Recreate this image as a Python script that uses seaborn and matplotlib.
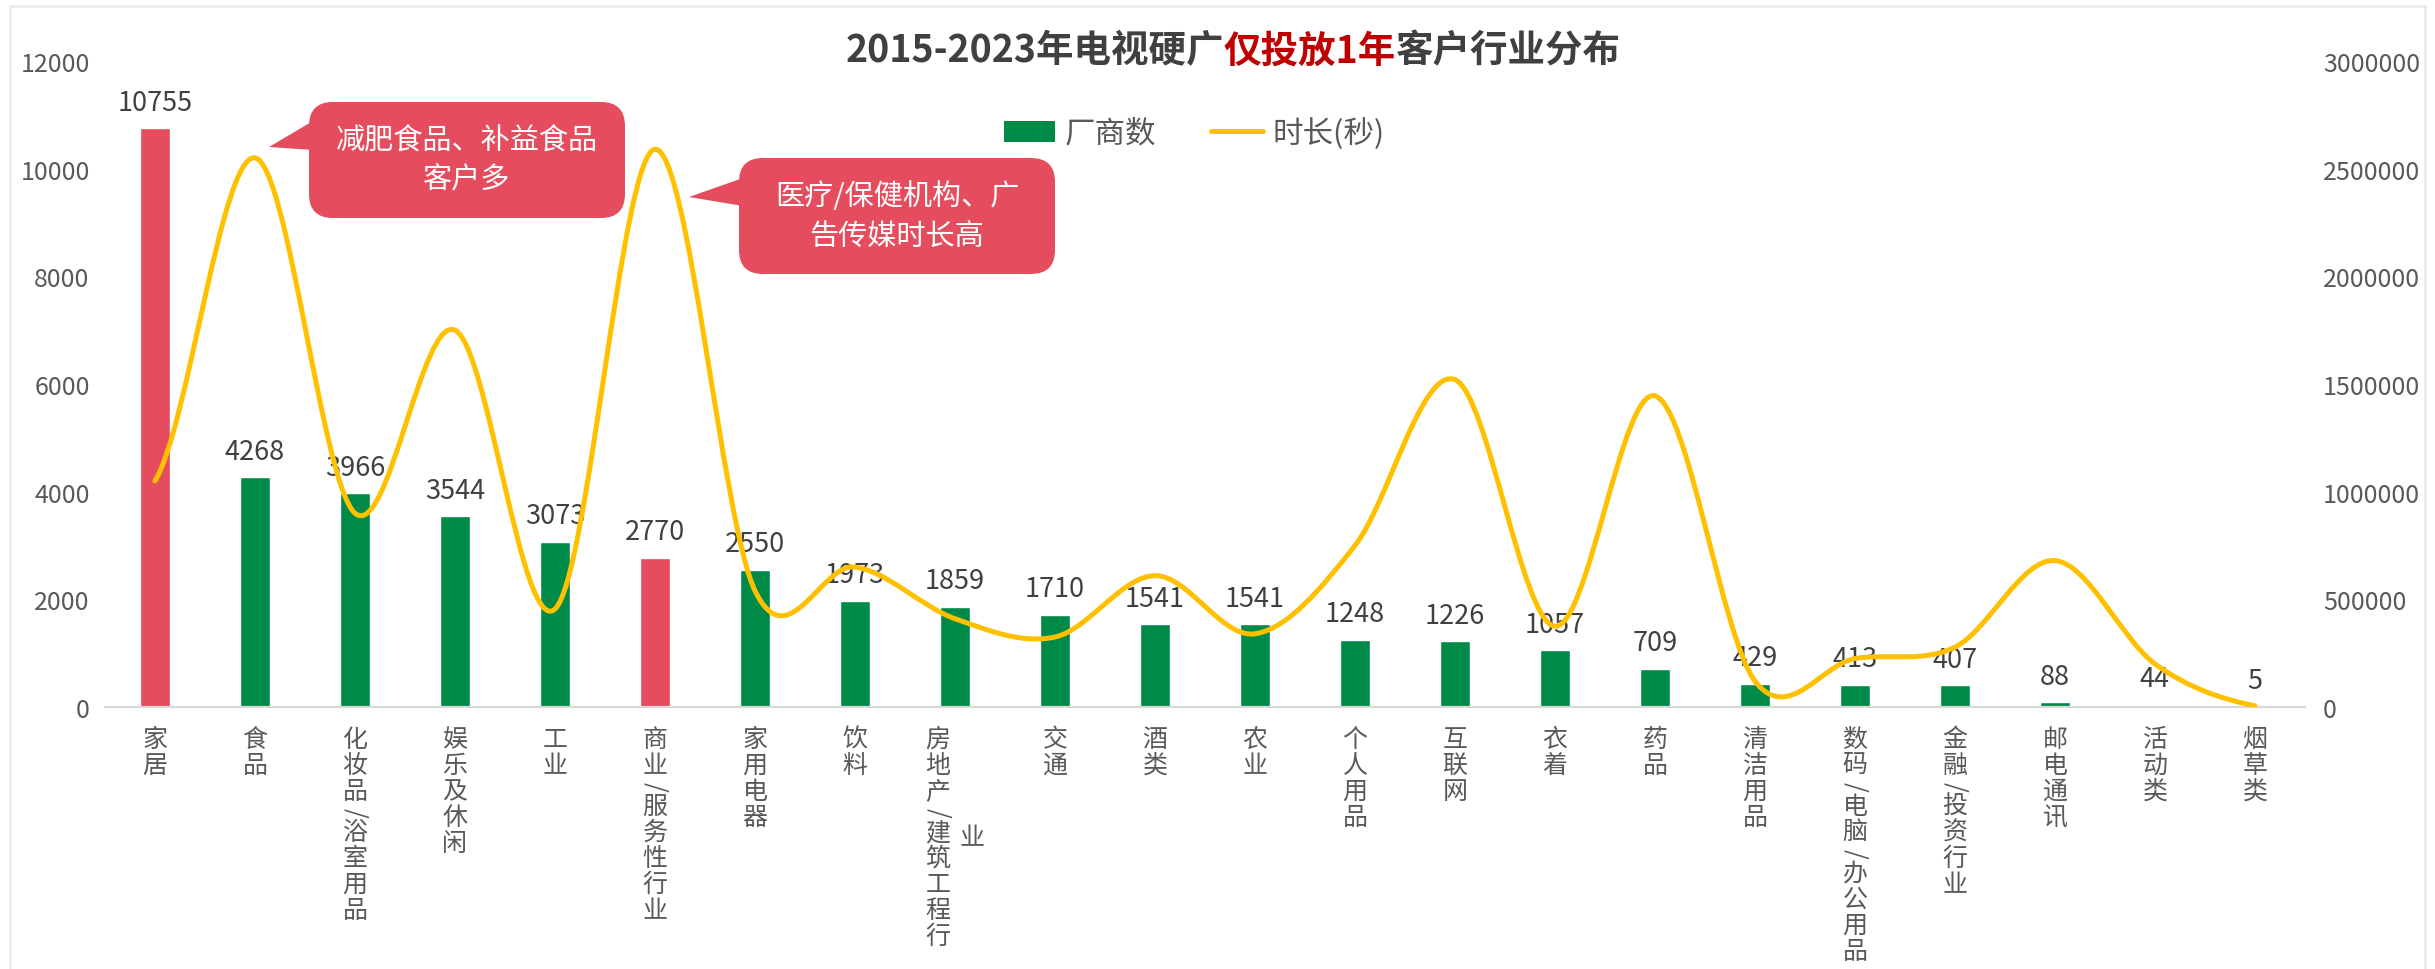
import matplotlib
matplotlib.use('Agg')
import matplotlib.pyplot as plt
import seaborn as sns
import pandas as pd
import numpy as np
from matplotlib.path import Path
from matplotlib.patches import PathPatch, FancyBboxPatch, Polygon, Rectangle, Patch
from matplotlib.lines import Line2D
from matplotlib.transforms import Affine2D
from matplotlib.ticker import FuncFormatter

# data
industries = ['家居', '食品', '化妆品/浴室用品', '娱乐及休闲', '工业', '商业/服务性行业',
              '家用电器', '饮料', '房地产/建筑工程行业', '交通', '酒类', '农业', '个人用品',
              '互联网', '衣着', '药品', '清洁用品', '数码/电脑/办公用品', '金融/投资行业',
              '邮电通讯', '活动类', '烟草类']
makers = [10755, 4268, 3966, 3544, 3073, 2770, 2550, 1973, 1859, 1710, 1541, 1541,
          1248, 1226, 1057, 709, 429, 413, 407, 88, 44, 5]
seconds = [1050000, 2550000, 900000, 1750000, 455000, 2590000, 540000, 650000, 410000,
           325000, 610000, 340000, 750000, 1520000, 375000, 1445000, 120000, 225000,
           278000, 680000, 200000, 5000]
highlight = ['家居', '商业/服务性行业']
notes = ['减肥食品、补益食品\n客户多', '医疗/保健机构、广\n告传媒时长高']

RED = '#E54D5E'
GREEN = '#008A47'
GOLD = '#FFC000'
GREY = '#595959'

sns.set_theme(style='white')
plt.rcParams['font.family'] = ['Noto Sans CJK SC', 'DejaVu Sans']

W, H = 2435, 970
fig = plt.figure(figsize=(W / 100, H / 100), dpi=100)
# pixel coords, origin top-left
pxt = Affine2D().scale(1 / W, -1 / H).translate(0, 1) + fig.transFigure

ax = fig.add_axes([105 / W, 1 - 708 / H, 2200 / W, 646 / H])
df = pd.DataFrame({'行业': industries, '厂商数': makers})
colors = [RED if c in highlight else GREEN for c in industries]
sns.barplot(data=df, x='行业', y='厂商数', hue='行业', palette=colors, width=0.3,
            saturation=1, legend=False, ax=ax)
ax.set_xlim(-0.5, len(industries) - 0.5)
ax.set_ylim(0, 12000)
ax.set_yticks(range(0, 12001, 2000))
ax.set_xticks(range(len(industries)))
ax.set_xticklabels([])
ax.set_xlabel('')
ax.set_ylabel('')
ax.tick_params(axis='both', length=0)
ax.tick_params(axis='y', labelsize=18, labelcolor=GREY, pad=11)
for s in ['top', 'left', 'right']:
    ax.spines[s].set_visible(False)
ax.spines['bottom'].set_color('#D9D9D9')
ax.spines['bottom'].set_linewidth(1.6)

for i, v in enumerate(makers):
    ax.annotate(str(v), (i, v), xytext=(0, 9), textcoords='offset points',
                ha='center', va='bottom', fontsize=19.5, color='#404040')

# vertical category labels, one character per row
trans = ax.get_xaxis_transform()
for i, lab in enumerate(industries):
    cols, h = [[]], 0
    for ch in lab:
        step = 15 if ch == '/' else 26
        if h + step > 240:
            cols.append([])
            h = 0
        cols[-1].append((ch, h, step))
        h += step
    col_h = [sum(s for _, _, s in c) for c in cols]
    for k, c in enumerate(cols):
        dx = 0 if len(cols) == 1 else (-17 if k == 0 else 17)
        y0 = 19 if k == 0 else 19 + (col_h[0] - col_h[k]) / 2
        for ch, yy, step in c:
            ax.annotate(ch, xy=(i, 0), xycoords=trans, xytext=(dx, -(y0 + yy + step / 2)),
                        textcoords='offset pixels', ha='center', va='center',
                        fontsize=18, color=GREY, rotation=-90 if ch == '/' else 0,
                        annotation_clip=False)

# smoothed duration line on the right axis
ax2 = ax.twinx()
ax2.set_ylim(0, 3000000)
ax2.set_yticks(range(0, 3000001, 500000))
ax2.yaxis.set_major_formatter(FuncFormatter(lambda v, p: f'{int(v)}'))
ax2.tick_params(axis='y', length=0, labelsize=18, labelcolor=GREY, pad=13)
for s in ax2.spines.values():
    s.set_visible(False)
ys = np.array(seconds, dtype=float)
n = len(ys)
verts = [(0, ys[0])]
codes = [Path.MOVETO]
for i in range(n - 1):
    p0 = ys[i - 1] if i > 0 else ys[i]
    p3 = ys[i + 2] if i + 2 < n else ys[i + 1]
    verts += [(i + 1 / 3, ys[i] + (ys[i + 1] - p0) / 6),
              (i + 2 / 3, ys[i + 1] - (p3 - ys[i]) / 6),
              (i + 1, ys[i + 1])]
    codes += [Path.CURVE4] * 3
ax2.add_patch(PathPatch(Path(verts, codes), fill=False, edgecolor=GOLD, lw=3.6,
                        capstyle='round', joinstyle='round'))

# legend
handles = [Patch(facecolor=GREEN, edgecolor='none'), Line2D([], [], color=GOLD, lw=3.6)]
fig.legend(handles, ['厂商数', '时长(秒)'], loc='center', bbox_to_anchor=(1194 / W, 1 - 134 / H),
           ncol=2, frameon=False, fontsize=22, handlelength=1.7, handleheight=0.7,
           handletextpad=0.3, columnspacing=1.8, labelcolor=GREY)

# title in three colours
t2 = fig.text(1224 / W, 1 - 51 / H, '仅投放1年', ha='left', va='center', fontsize=27,
              fontweight='bold', color='#C00000')
ax.annotate('2015-2023年电视硬广', xy=(0, 0.5), xycoords=t2, ha='right', va='center',
            fontsize=27, fontweight='bold', color='#404040', annotation_clip=False)
ax.annotate('客户行业分布', xy=(1, 0.5), xycoords=t2, ha='left', va='center',
            fontsize=27, fontweight='bold', color='#404040', annotation_clip=False)

# callouts
boxes = [(309, 103, 625, 219, (269, 148), 122, 151),
         (739, 159, 1055, 275, (689, 198), 179, 207)]
for (x0, y0, x1, y1, tip, b0, b1), note in zip(boxes, notes):
    fig.add_artist(FancyBboxPatch((x0, y0), x1 - x0, y1 - y0,
                                  boxstyle='round,pad=0,rounding_size=24',
                                  facecolor=RED, edgecolor='none', transform=pxt))
    fig.add_artist(Polygon([tip, (x0 + 4, b0), (x0 + 4, b1)], closed=True,
                           facecolor=RED, edgecolor='none', transform=pxt))
    fig.text((x0 + x1) / 2, (y0 + y1) / 2, note, transform=pxt, ha='center', va='center',
             multialignment='center', fontsize=21, color='white', linespacing=1.4)

# light outer frame
fig.add_artist(Rectangle((10, 7), 2415, 975, transform=pxt, fill=False,
                         edgecolor='#EBEBEB', lw=2))

fig.savefig('out.png', dpi=100)
